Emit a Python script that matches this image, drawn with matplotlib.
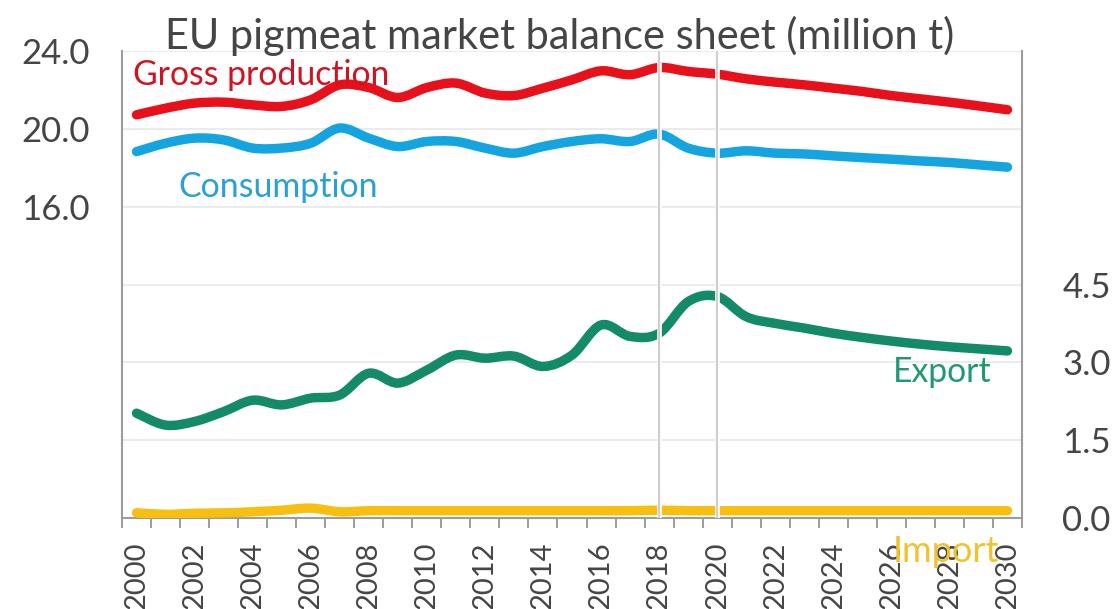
import numpy as np
import matplotlib
matplotlib.use("Agg")
import matplotlib.pyplot as plt
from matplotlib.path import Path
from matplotlib.patches import PathPatch
from matplotlib.ticker import FixedLocator, FuncFormatter

# ---------------- data (million t) ----------------
years = list(range(2000, 2031))
gross_production = [20.72, 21.06, 21.32, 21.37, 21.23, 21.15, 21.49, 22.26, 22.12, 21.61,
                    22.12, 22.35, 21.84, 21.71, 22.09, 22.52, 22.98, 22.78, 23.15, 22.95,
                    22.81, 22.57, 22.40, 22.26, 22.09, 21.92, 21.71, 21.54, 21.37, 21.18,
                    20.98]
consumption = [18.83, 19.26, 19.52, 19.43, 19.01, 19.01, 19.26, 20.04, 19.52, 19.09,
               19.35, 19.35, 19.01, 18.75, 19.09, 19.35, 19.49, 19.35, 19.73, 19.01,
               18.75, 18.87, 18.75, 18.71, 18.61, 18.52, 18.44, 18.35, 18.27, 18.15,
               18.03]
export = [2.02, 1.79, 1.86, 2.05, 2.27, 2.18, 2.31, 2.37, 2.79, 2.60,
          2.85, 3.14, 3.08, 3.12, 2.92, 3.14, 3.72, 3.50, 3.56, 4.17,
          4.27, 3.88, 3.75, 3.66, 3.56, 3.48, 3.41, 3.35, 3.30, 3.26,
          3.22]
imports = [0.10, 0.07, 0.09, 0.10, 0.12, 0.15, 0.19, 0.12, 0.14, 0.14,
           0.14, 0.14, 0.14, 0.14, 0.14, 0.14, 0.14, 0.14, 0.15, 0.14,
           0.14, 0.14, 0.14, 0.14, 0.14, 0.14, 0.14, 0.14, 0.14, 0.14,
           0.14]
left_ticks = [0, 4, 8, 12, 16, 20, 24]
left_labelled = [16, 20, 24]
right_ticks = [0.0, 1.5, 3.0, 4.5]
marker_years = [2018, 2020]

title = "EU pigmeat market balance sheet (million t)"

# ---------------- styling ----------------
W, H = 1114, 609
FONT = ["Lato", "DejaVu Sans"]
TXT = "#454545"
SPINE = "#9c9c9c"
GRID = "#ebebeb"
RED, RED_T = "#e8101a", "#d3121f"
BLUE, BLUE_T = "#14a5e0", "#2a9fd8"
GREEN, GREEN_T = "#138a68", "#1f9a6e"
YEL, YEL_T = "#f7bf10", "#f1c230"
LW = 6.8

plt.rcParams["font.family"] = FONT

fig = plt.figure(figsize=(W / 100, H / 100), dpi=100)
L, R, T, B = 122, 1022, 51, 518
ax = fig.add_axes([L / W, 1 - B / H, (R - L) / W, (B - T) / H])
ax2 = ax.twinx()

xi = np.arange(len(years))


def smooth_path(x, y):
    x = np.asarray(x, float)
    y = np.asarray(y, float)
    n = len(x)
    verts = [(x[0], y[0])]
    codes = [Path.MOVETO]
    for i in range(n - 1):
        a = i - 1 if i > 0 else i
        d = i + 2 if i + 2 < n else i + 1
        c1 = (x[i] + (x[i + 1] - x[a]) / 6.0, y[i] + (y[i + 1] - y[a]) / 6.0)
        c2 = (x[i + 1] - (x[d] - x[i]) / 6.0, y[i + 1] - (y[d] - y[i]) / 6.0)
        verts += [c1, c2, (x[i + 1], y[i + 1])]
        codes += [Path.CURVE4] * 3
    return Path(verts, codes)


def draw_series(a, y, color, z):
    p = PathPatch(smooth_path(xi, y), fill=False, edgecolor=color, lw=LW,
                  capstyle="round", joinstyle="round", zorder=z,
                  transform=a.transData)
    a.add_patch(p)
    a.plot(xi, y, alpha=0)


draw_series(ax, gross_production, RED, 3)
draw_series(ax, consumption, BLUE, 3)
draw_series(ax2, export, GREEN, 3)
draw_series(ax2, imports, YEL, 3)

ax.set_xlim(-0.5, len(years) - 0.5)
ax.set_ylim(0, 24)
ax2.set_ylim(0, 9)

ax.yaxis.set_major_locator(FixedLocator(left_ticks))
ax.yaxis.set_major_formatter(FuncFormatter(
    lambda v, p: f"{v:.1f}" if v in left_labelled else ""))
ax.grid(axis="y", color=GRID, lw=1.5, zorder=0)
ax.set_axisbelow(True)

ax2.yaxis.set_major_locator(FixedLocator(right_ticks))
ax2.yaxis.set_major_formatter(FuncFormatter(lambda v, p: f"{v:.1f}"))

ax.set_xticks(xi[::2])
ax.set_xticklabels([str(y) for y in years[::2]], rotation=90)
ax.set_xticks(np.arange(-0.5, len(years), 1.0), minor=True)
ax.tick_params(axis="x", which="major", length=0, pad=17, labelsize=21,
               labelcolor=TXT)
ax.tick_params(axis="x", which="minor", length=7, width=1.4, color=SPINE,
               direction="out")
ax.tick_params(axis="y", which="major", length=0, pad=23, labelsize=25,
               labelcolor=TXT)
ax2.tick_params(axis="y", which="major", length=0, pad=29, labelsize=25,
                labelcolor=TXT)

for a in (ax, ax2):
    a.spines["top"].set_visible(False)
ax.spines["right"].set_visible(False)
ax2.spines["left"].set_visible(False)
ax2.spines["bottom"].set_visible(False)
for s in ("left", "bottom"):
    ax.spines[s].set_color(SPINE)
    ax.spines[s].set_linewidth(1.5)
ax2.spines["right"].set_color(SPINE)
ax2.spines["right"].set_linewidth(1.5)

for yr in marker_years:
    xv = years.index(yr)
    ax2.axvline(xv, color="white", lw=3.4, zorder=8)
    ax2.axvline(xv, color="#cfcfcf", lw=1.6, zorder=9)


def fig_text(x, y, s, **kw):
    return fig.text(x / W, 1 - y / H, s, **kw)


def fit(t, width):
    fig.canvas.draw()
    w = t.get_window_extent(fig.canvas.get_renderer()).width
    t.set_fontsize(t.get_fontsize() * width / w)


t_title = fig_text(560, 36, title, ha="center", va="center", color=TXT, fontsize=24)
t_gp = fig_text(133, 75, "Gross production", ha="left", va="center", color=RED_T, fontsize=20)
t_con = fig_text(178, 187, "Consumption", ha="left", va="center", color=BLUE_T, fontsize=20)
t_exp = fig_text(992, 372, "Export", ha="right", va="center", color=GREEN_T, fontsize=20)
t_imp = fig_text(893, 552, "Import", ha="left", va="center", color=YEL_T, fontsize=20,
                 zorder=20)

fit(t_title, 790)
fit(t_gp, 257)
fit(t_con, 200)
fit(t_exp, 99)
fit(t_imp, 107)

fig.savefig("out.png", dpi=100)
